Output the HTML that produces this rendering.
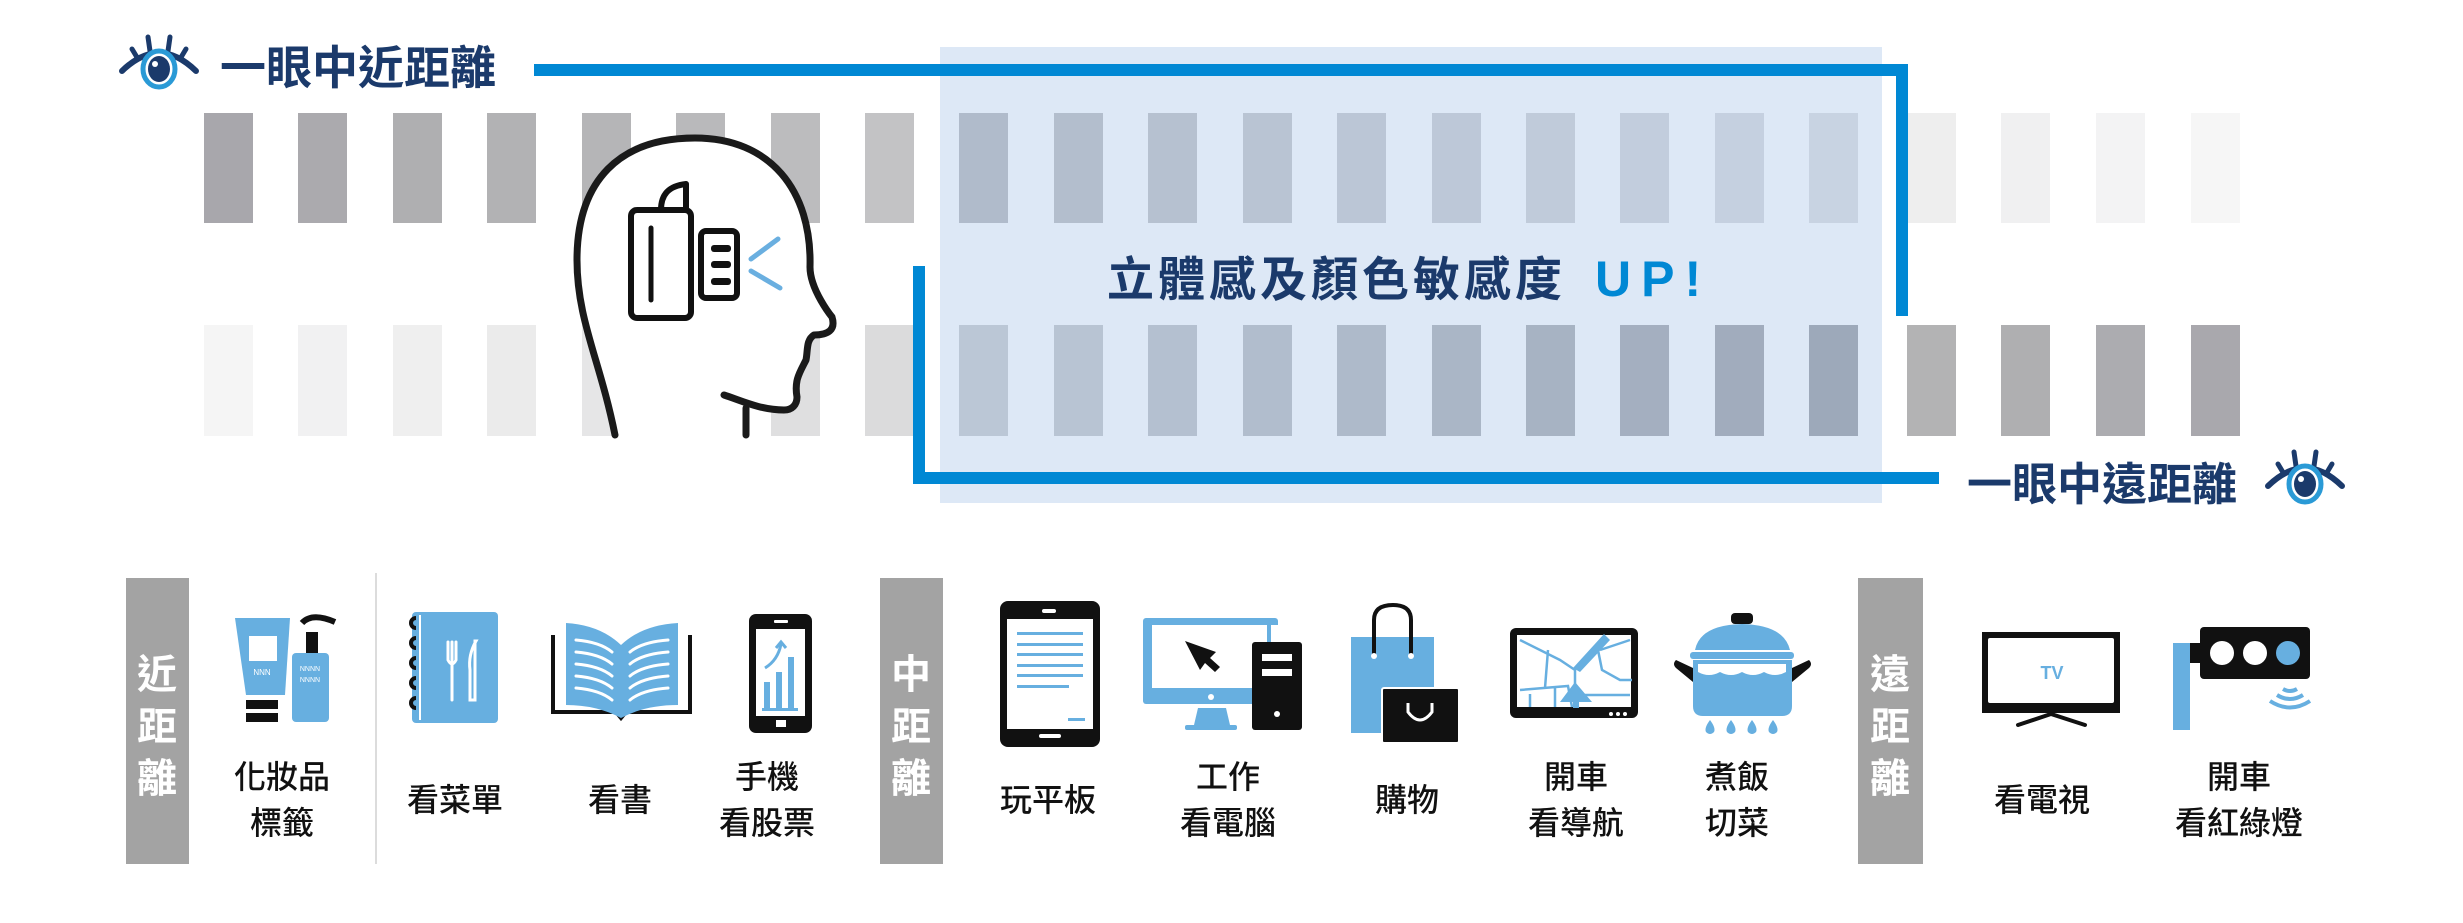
<!DOCTYPE html>
<html><head><meta charset="utf-8"><style>
html,body{margin:0;padding:0;background:#fff;}
svg{display:block;}
.t{font-family:"Liberation Sans","Noto Sans CJK TC",sans-serif;}
</style></head><body>
<svg width="2463" height="923" viewBox="0 0 2463 923" xmlns="http://www.w3.org/2000/svg">
<defs>
<g id="eye">
 <path d="M0 36 Q37 0 74 36" fill="none" stroke="#1b3a6b" stroke-width="6" stroke-linecap="round"/>
 <line x1="10" y1="14" x2="16" y2="24" stroke="#1b3a6b" stroke-width="5" stroke-linecap="round"/>
 <line x1="26" y1="2" x2="28" y2="16" stroke="#1b3a6b" stroke-width="5" stroke-linecap="round"/>
 <line x1="48" y1="2" x2="46" y2="16" stroke="#1b3a6b" stroke-width="5" stroke-linecap="round"/>
 <line x1="64" y1="14" x2="58" y2="24" stroke="#1b3a6b" stroke-width="5" stroke-linecap="round"/>
 <ellipse cx="37" cy="34" rx="16" ry="18" fill="#fff" stroke="#2a9ad6" stroke-width="5"/>
 <ellipse cx="37" cy="34" rx="11" ry="13" fill="#1b3a6b"/>
 <circle cx="33" cy="29" r="3" fill="#fff"/>
</g>
</defs>

<!-- top bars -->
<g>
<rect x="204" y="113" width="49" height="110" fill="#a8a7ac"/>
<rect x="298" y="113" width="49" height="110" fill="#abaaae"/>
<rect x="393" y="113" width="49" height="110" fill="#afafb1"/>
<rect x="487" y="113" width="49" height="110" fill="#b2b2b4"/>
<rect x="582" y="113" width="49" height="110" fill="#b5b5b7"/>
<rect x="676" y="113" width="49" height="110" fill="#b9b9bb"/>
<rect x="771" y="113" width="49" height="110" fill="#bcbcbe"/>
<rect x="865" y="113" width="49" height="110" fill="#c3c3c5"/>
<rect x="959" y="113" width="49" height="110" fill="#c6c6c8"/>
<rect x="1054" y="113" width="49" height="110" fill="#c9c9cb"/>
<rect x="1148" y="113" width="49" height="110" fill="#cdcdcf"/>
<rect x="1243" y="113" width="49" height="110" fill="#d1d1d3"/>
<rect x="1337" y="113" width="49" height="110" fill="#d4d4d6"/>
<rect x="1432" y="113" width="49" height="110" fill="#d7d7d9"/>
<rect x="1526" y="113" width="49" height="110" fill="#dadadc"/>
<rect x="1620" y="113" width="49" height="110" fill="#dddddf"/>
<rect x="1715" y="113" width="49" height="110" fill="#e1e1e3"/>
<rect x="1809" y="113" width="49" height="110" fill="#e4e4e6"/>
<rect x="1907" y="113" width="49" height="110" fill="#eeeeee"/>
<rect x="2001" y="113" width="49" height="110" fill="#f0f0f1"/>
<rect x="2096" y="113" width="49" height="110" fill="#f3f3f4"/>
<rect x="2191" y="113" width="49" height="110" fill="#f6f6f6"/>
</g>
<!-- bottom bars -->
<g>
<rect x="204" y="325" width="49" height="111" fill="#f5f5f5"/>
<rect x="298" y="325" width="49" height="111" fill="#f1f1f2"/>
<rect x="393" y="325" width="49" height="111" fill="#efefef"/>
<rect x="487" y="325" width="49" height="111" fill="#ebebeb"/>
<rect x="582" y="325" width="49" height="111" fill="#e6e6e7"/>
<rect x="676" y="325" width="49" height="111" fill="#e3e3e4"/>
<rect x="771" y="325" width="49" height="111" fill="#dfdfe0"/>
<rect x="865" y="325" width="49" height="111" fill="#dbdbdc"/>
<rect x="959" y="325" width="49" height="111" fill="#d4d5d7"/>
<rect x="1054" y="325" width="49" height="111" fill="#d0d1d3"/>
<rect x="1148" y="325" width="49" height="111" fill="#cbcccf"/>
<rect x="1243" y="325" width="49" height="111" fill="#c7c8cb"/>
<rect x="1337" y="325" width="49" height="111" fill="#c3c4c7"/>
<rect x="1432" y="325" width="49" height="111" fill="#bebfc2"/>
<rect x="1526" y="325" width="49" height="111" fill="#babbbe"/>
<rect x="1620" y="325" width="49" height="111" fill="#b6b7ba"/>
<rect x="1715" y="325" width="49" height="111" fill="#b2b3b6"/>
<rect x="1809" y="325" width="49" height="111" fill="#aeafb2"/>
<rect x="1907" y="325" width="49" height="111" fill="#b3b3b4"/>
<rect x="2001" y="325" width="49" height="111" fill="#afafb1"/>
<rect x="2096" y="325" width="49" height="111" fill="#acacb0"/>
<rect x="2191" y="325" width="49" height="111" fill="#a9a8ad"/>
</g>

<!-- blue panel overlay -->
<rect x="940" y="47" width="942" height="456" fill="rgb(100,150,215)" fill-opacity="0.22"/>

<!-- blue connector lines -->
<path d="M534 70 H1902 V316" fill="none" stroke="#0088d4" stroke-width="12"/>
<path d="M919 266 V478 H1939" fill="none" stroke="#0088d4" stroke-width="12"/>

<!-- titles -->
<use href="#eye" x="122" y="35"/>
<text x="220" y="84" class="t" font-size="46" font-weight="bold" fill="#1b3a6b">一眼中近距離</text>
<text x="1967" y="500" class="t" font-size="45" font-weight="bold" fill="#1b3a6b">一眼中遠距離</text>
<use href="#eye" x="2268" y="450"/>

<text x="1107" y="296" class="t" font-size="47" font-weight="bold" fill="#1b3a6b" letter-spacing="4">立體感及顏色敏感度</text>
<text x="1595" y="296" class="t" font-size="50" font-weight="bold" fill="#0088d4" letter-spacing="10">UP!</text>

<!-- head -->
<path d="M615 437 C600 360 577 320 577 260 C577 180 620 138 695 138 C770 138 812 190 810 267 C810 290 832 317 832 317 C836 330 828 335 814 335 C806 340 808 350 806 360 C800 372 794 380 797 397 C797 405 792 410 784 410 C770 410 760 408 746 405 V437 Z" fill="#fff"/>
<path d="M615 435 C600 360 577 320 577 260 C577 180 620 138 695 138 C770 138 812 190 810 267 C810 290 832 317 832 317 C836 330 828 335 814 335 C806 340 808 350 806 360 C800 372 794 380 797 397 C797 405 792 410 784 410 C760 410 740 400 724 395" fill="none" stroke="#1a1a1a" stroke-width="7" stroke-linecap="round" stroke-linejoin="round"/>
<path d="M746 408 V435" fill="none" stroke="#1a1a1a" stroke-width="7" stroke-linecap="round"/>
<rect x="631" y="210" width="60" height="108" rx="6" fill="#fff" stroke="#111" stroke-width="6"/>
<line x1="651" y1="228" x2="651" y2="300" stroke="#111" stroke-width="5" stroke-linecap="round"/>
<path d="M661 210 C661 195 668 186 686 184 V210 Z" fill="#fff" stroke="#111" stroke-width="6" stroke-linejoin="round"/>
<rect x="701" y="231" width="36" height="67" rx="5" fill="#fff" stroke="#111" stroke-width="6"/>
<rect x="711" y="245" width="20" height="7" rx="3" fill="#111"/>
<rect x="711" y="261" width="20" height="7" rx="3" fill="#111"/>
<rect x="711" y="278" width="20" height="7" rx="3" fill="#111"/>
<path d="M778 239 L751 259 M751 271 L780 288" stroke="#6aafe0" stroke-width="5" stroke-linecap="round"/>

<!-- category boxes -->
<rect x="126" y="578" width="63" height="286" fill="#a3a3a3"/>
<rect x="880" y="578" width="63" height="286" fill="#a3a3a3"/>
<rect x="1858" y="578" width="65" height="286" fill="#a3a3a3"/>
<line x1="376" y1="573" x2="376" y2="864" stroke="#dcdcdc" stroke-width="2"/>
<g class="t" font-size="40" font-weight="bold" fill="#fff" text-anchor="middle">
<text x="157" y="688">近</text><text x="157" y="740">距</text><text x="157" y="792">離</text>
<text x="911" y="688">中</text><text x="911" y="740">距</text><text x="911" y="792">離</text>
<text x="1890" y="688">遠</text><text x="1890" y="740">距</text><text x="1890" y="792">離</text>
</g>

<!-- item labels -->
<g class="t" font-size="32" font-weight="500" fill="#111" text-anchor="middle">
<text x="282" y="788">化妝品</text><text x="282" y="834">標籤</text>
<text x="455" y="811">看菜單</text>
<text x="620" y="811">看書</text>
<text x="767" y="788">手機</text><text x="767" y="834">看股票</text>
<text x="1048" y="811">玩平板</text>
<text x="1228" y="788">工作</text><text x="1228" y="834">看電腦</text>
<text x="1407" y="811">購物</text>
<text x="1576" y="788">開車</text><text x="1576" y="834">看導航</text>
<text x="1737" y="788">煮飯</text><text x="1737" y="834">切菜</text>
<text x="2042" y="811">看電視</text>
<text x="2239" y="788">開車</text><text x="2239" y="834">看紅綠燈</text>
</g>

<!-- cosmetics -->
<path d="M235 618 H290 L285 695 H246 Z" fill="#67afe0"/>
<rect x="249" y="636" width="28" height="25" fill="#fff"/>
<text x="262" y="675" font-family="Liberation Sans" font-size="8" fill="#fff" text-anchor="middle">NNN</text>
<rect x="246" y="700" width="32" height="9" fill="#111"/>
<rect x="246" y="713" width="32" height="9" fill="#111"/>
<rect x="292" y="653" width="37" height="69" rx="4" fill="#67afe0"/>
<text x="310" y="671" font-family="Liberation Sans" font-size="7" fill="#fff" text-anchor="middle">NNNN</text>
<text x="310" y="682" font-family="Liberation Sans" font-size="7" fill="#fff" text-anchor="middle">NNNN</text>
<rect x="306" y="632" width="12" height="21" fill="#111"/>
<path d="M302 623 Q312 612 335 622" fill="none" stroke="#111" stroke-width="6"/>

<!-- menu -->
<rect x="412" y="612" width="86" height="111" rx="4" fill="#67afe0"/>
<line x1="420" y1="615" x2="420" y2="720" stroke="#fff" stroke-width="2"/>
<g fill="none" stroke="#111" stroke-width="4">
<path d="M416 618 a5 5 0 1 0 0 10"/><path d="M416 638 a5 5 0 1 0 0 10"/><path d="M416 658 a5 5 0 1 0 0 10"/><path d="M416 678 a5 5 0 1 0 0 10"/><path d="M416 698 a5 5 0 1 0 0 10"/>
</g>
<path d="M448 642 V660 Q452 668 456 660 V642 M452 642 V700" stroke="#fff" stroke-width="3" fill="none" stroke-linecap="round"/>
<path d="M476 641 Q468 655 470 670 V700 H475 V641 Z" fill="none" stroke="#fff" stroke-width="3"/>

<!-- book -->
<path d="M553 635 V712 H616 L621 718 L626 712 H690 V635" fill="none" stroke="#111" stroke-width="4"/>
<path d="M566 623 Q600 625 621 645 Q642 625 678 623 V705 Q645 705 621 718 Q597 705 566 705 Z" fill="#67afe0"/>
<g stroke="#fff" stroke-width="3" fill="none" stroke-linecap="round">
<path d="M576 640 Q600 642 612 652 M576 652 Q600 654 612 664 M576 664 Q600 666 612 676 M576 676 Q600 678 612 688 M576 688 Q600 690 612 700"/>
<path d="M630 652 Q642 642 668 640 M630 664 Q642 654 668 652 M630 676 Q642 666 668 664 M630 688 Q642 678 668 676 M630 700 Q642 690 668 688"/>
</g>

<!-- phone -->
<rect x="749" y="614" width="63" height="119" rx="7" fill="#111"/>
<rect x="756" y="629" width="49" height="87" fill="#fff"/>
<rect x="774" y="620" width="14" height="3" rx="1" fill="#fff"/>
<rect x="776" y="720" width="10" height="7" fill="#fff"/>
<g fill="#67afe0"><rect x="764" y="682" width="6" height="28"/><rect x="776" y="672" width="6" height="38"/><rect x="788" y="657" width="6" height="53"/><rect x="762" y="708" width="36" height="3"/></g>
<path d="M765 668 Q778 660 781 644 M776 648 L781 642 L786 648" fill="none" stroke="#67afe0" stroke-width="3"/>

<!-- tablet -->
<rect x="1000" y="601" width="100" height="146" rx="8" fill="#111"/>
<rect x="1007" y="619" width="86" height="110" fill="#fff"/>
<rect x="1042" y="609" width="14" height="4" rx="2" fill="#fff"/>
<rect x="1039" y="734" width="22" height="4" rx="2" fill="#fff"/>
<g fill="#67afe0"><rect x="1017" y="632" width="66" height="3"/><rect x="1017" y="643" width="66" height="3"/><rect x="1017" y="653" width="66" height="3"/><rect x="1017" y="664" width="66" height="3"/><rect x="1017" y="674" width="66" height="3"/><rect x="1017" y="685" width="52" height="3"/><rect x="1068" y="718" width="17" height="3"/></g>

<!-- computer -->
<rect x="1143" y="618" width="135" height="86" rx="3" fill="#67afe0"/>
<rect x="1152" y="625" width="115" height="63" fill="#fff"/>
<rect x="1271" y="625" width="7" height="18" fill="#fff"/>
<circle cx="1211" cy="697" r="3" fill="#fff"/>
<path d="M1198 708 H1226 L1230 725 H1194 Z" fill="#67afe0"/>
<rect x="1185" y="725" width="52" height="5" rx="2" fill="#67afe0"/>
<path d="M1185 641 L1216 652 L1210 658 L1220 667 L1215 672 L1205 663 L1200 670 Z" fill="#111"/>
<rect x="1252" y="642" width="50" height="88" rx="3" fill="#111"/>
<rect x="1262" y="654" width="30" height="7" fill="#fff"/>
<rect x="1262" y="669" width="30" height="7" fill="#fff"/>
<circle cx="1277" cy="714" r="3" fill="#fff"/>

<!-- shopping -->
<rect x="1351" y="637" width="83" height="96" fill="#67afe0"/>
<path d="M1374 656 V620 Q1374 605 1393 605 Q1411 605 1411 620 V656" fill="none" stroke="#111" stroke-width="4"/>
<circle cx="1374" cy="656" r="3" fill="#fff"/><circle cx="1411" cy="656" r="3" fill="#fff"/>
<rect x="1382" y="688" width="77" height="55" rx="2" fill="#111" stroke="#fff" stroke-width="2"/>
<path d="M1408 703 V712 Q1420 728 1432 712 V703" fill="none" stroke="#fff" stroke-width="3"/>

<!-- nav -->
<rect x="1510" y="628" width="128" height="90" rx="6" fill="#111"/>
<rect x="1517" y="635" width="114" height="72" fill="#fff"/>
<g fill="none" stroke="#67afe0" stroke-width="2.5">
<path d="M1520 690 L1568 686 L1572 707 M1530 694 V707 M1555 688 V707 M1520 640 L1560 660 L1575 670 V700 M1548 650 L1545 688 M1598 650 L1602 670 L1620 680 L1632 680 M1600 650 L1630 640 M1585 695 L1630 695"/>
</g>
<path d="M1573 668 L1604 634 L1610 640 L1580 672 Z" fill="#67afe0"/>
<path d="M1575 682 L1560 702 H1592 Z" fill="#67afe0"/>
<rect x="1573" y="702" width="6" height="6" fill="#67afe0"/>
<circle cx="1611" cy="714" r="2" fill="#fff"/><circle cx="1618" cy="714" r="2" fill="#fff"/><circle cx="1625" cy="714" r="2" fill="#fff"/>

<!-- pot -->
<rect x="1731" y="613" width="22" height="11" rx="4" fill="#111"/>
<path d="M1695 650 Q1700 625 1742 624 Q1784 625 1790 650 Z" fill="#67afe0"/>
<rect x="1690" y="652" width="104" height="7" rx="3" fill="#67afe0"/>
<path d="M1693 660 H1792 V706 Q1792 716 1782 716 H1703 Q1693 716 1693 706 Z" fill="#67afe0"/>
<path d="M1698 664 H1786 V672 Q1775 678 1764 672 Q1753 678 1742 672 Q1731 678 1720 672 Q1709 678 1698 672 Z" fill="#fff"/>
<path d="M1693 668 L1676 660 Q1672 664 1676 668 L1693 682 Z M1792 668 L1809 660 Q1813 664 1809 668 L1792 682 Z" fill="#111"/>
<g fill="#67afe0"><path d="M1710 720 Q1704 728 1706 732 Q1710 736 1714 732 Q1716 728 1710 720 Z"/><path d="M1731 720 Q1725 728 1727 732 Q1731 736 1735 732 Q1737 728 1731 720 Z"/><path d="M1752 720 Q1746 728 1748 732 Q1752 736 1756 732 Q1758 728 1752 720 Z"/><path d="M1773 720 Q1767 728 1769 732 Q1773 736 1777 732 Q1779 728 1773 720 Z"/></g>

<!-- tv -->
<rect x="1982" y="632" width="138" height="81" fill="#111"/>
<rect x="1988" y="638" width="126" height="65" rx="2" fill="#fff"/>
<text x="2052" y="679" font-family="Liberation Sans" font-weight="bold" font-size="18" fill="#67afe0" text-anchor="middle">TV</text>
<path d="M2018 725 L2051 714 L2085 725" fill="none" stroke="#111" stroke-width="4" stroke-linecap="round"/>

<!-- traffic -->
<rect x="2173" y="643" width="17" height="87" fill="#67afe0"/>
<rect x="2190" y="643" width="12" height="20" fill="#111"/>
<rect x="2200" y="627" width="110" height="52" rx="4" fill="#111"/>
<circle cx="2222" cy="653" r="12" fill="#fff"/><circle cx="2255" cy="653" r="12" fill="#fff"/><circle cx="2288" cy="653" r="12" fill="#67afe0"/>
<g fill="none" stroke="#67afe0" stroke-width="4">
<path d="M2283 689 Q2290 693 2297 689"/><path d="M2277 695 Q2290 703 2303 695"/><path d="M2270 701 Q2290 714 2310 701"/>
</g>
</svg>
</body></html>
